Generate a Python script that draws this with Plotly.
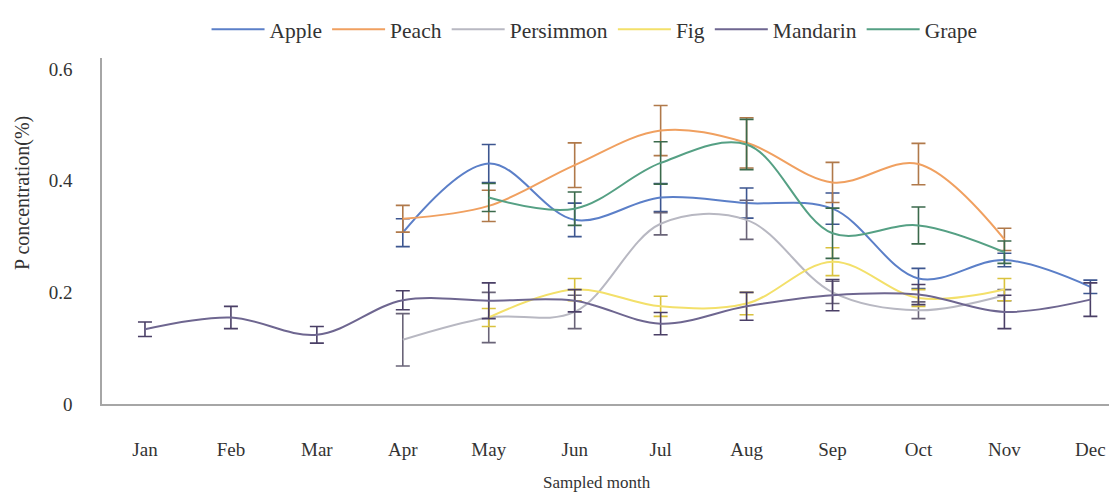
import plotly.graph_objects as go

months = ["Jan", "Feb", "Mar", "Apr", "May", "Jun", "Jul", "Aug", "Sep", "Oct", "Nov", "Dec"]

apple = [None, None, None, 0.307, 0.431, 0.330, 0.370, 0.360, 0.350, 0.225, 0.258, 0.210]
apple_err = [None, None, None, 0.025, 0.034, 0.030, 0.025, 0.027, 0.028, 0.018, 0.012, 0.012]

peach = [None, None, None, 0.332, 0.355, 0.428, 0.490, 0.468, 0.397, 0.430, 0.295, None]
peach_err = [None, None, None, 0.024, 0.028, 0.040, 0.045, 0.045, 0.036, 0.037, 0.020, None]

persimmon = [None, None, None, 0.115, 0.155, 0.165, 0.323, 0.330, 0.200, 0.168, 0.195, None]
persimmon_err = [None, None, None, 0.047, 0.045, 0.030, 0.020, 0.035, 0.020, 0.015, 0.010, None]

fig_v = [None, None, None, None, 0.155, 0.205, 0.175, 0.180, 0.255, 0.190, 0.205, None]
fig_err = [None, None, None, None, 0.016, 0.020, 0.018, 0.020, 0.025, 0.015, 0.020, None]

mandarin = [0.134, 0.155, 0.124, 0.186, 0.185, 0.185, 0.144, 0.175, 0.195, 0.196, 0.165, 0.187]
mandarin_err = [0.013, 0.020, 0.015, 0.017, 0.032, 0.020, 0.020, 0.025, 0.028, 0.018, 0.030, 0.030]

grape = [None, None, None, None, 0.370, 0.350, 0.432, 0.465, 0.306, 0.320, 0.272, None]
grape_err = [None, None, None, None, 0.025, 0.030, 0.038, 0.045, 0.045, 0.033, 0.020, None]

series = [
    ("Apple", apple, apple_err, "#5b7fc8", "#3d5690"),
    ("Peach", peach, peach_err, "#f0a060", "#b0794a"),
    ("Persimmon", persimmon, persimmon_err, "#b8b8c2", "#6a6478"),
    ("Fig", fig_v, fig_err, "#f3e06a", "#d9c23e"),
    ("Mandarin", mandarin, mandarin_err, "#6e6690", "#4a3f66"),
    ("Grape", grape, grape_err, "#55a084", "#3b6a4c"),
]

FONT = "Liberation Serif"
x = list(range(len(months)))

fig = go.Figure()
for name, vals, errs, col, ecol in series:
    fig.add_trace(go.Scatter(
        x=x, y=vals, name=name, mode="lines",
        line=dict(color=col, width=2, shape="spline", smoothing=1),
        connectgaps=False,
        error_y=dict(type="data", array=errs, visible=True, color=ecol, thickness=1.6, width=7),
    ))

# page has an 8px body margin, so the figure is sized 8px smaller than the window
fig.update_layout(
    width=1109, height=489,
    margin=dict(l=94, r=0, t=50, b=93),
    paper_bgcolor="white", plot_bgcolor="white",
    font=dict(family=FONT, color="#333333", size=19),
    showlegend=True,
    legend=dict(orientation="h", x=0.103, xanchor="left", y=1.142, yanchor="top",
                font=dict(family=FONT, size=21.5, color="#333333"), itemwidth=53,
                bgcolor="rgba(0,0,0,0)"),
    xaxis=dict(range=[-0.5, 11.31], tickmode="array", tickvals=x, ticktext=months,
               showline=True, linecolor="#a6a6a6", linewidth=1.5, showgrid=False,
               zeroline=False, ticks="", ticklabelstandoff=27,
               tickfont=dict(family=FONT, size=19, color="#333333")),
    yaxis=dict(range=[0, 0.62], tickmode="array", tickvals=[0, 0.2, 0.4, 0.6],
               ticktext=["0", "0.2", "0.4", "0.6"],
               showline=True, linecolor="#a6a6a6", linewidth=1.5, showgrid=False,
               zeroline=False, ticks="", ticklabelstandoff=24,
               tickfont=dict(family=FONT, size=19, color="#333333")),
    annotations=[
        dict(text="Sampled month", xref="paper", yref="paper", x=0.488, y=-0.228,
             xanchor="center", yanchor="middle", showarrow=False,
             font=dict(family=FONT, size=17, color="#333333")),
        dict(text="P concentration(%)", xref="paper", yref="paper", x=-0.0778, y=0.61,
             xanchor="center", yanchor="middle", showarrow=False, textangle=-90,
             font=dict(family=FONT, size=20, color="#333333")),
    ],
)

fig.write_html("out.html")
